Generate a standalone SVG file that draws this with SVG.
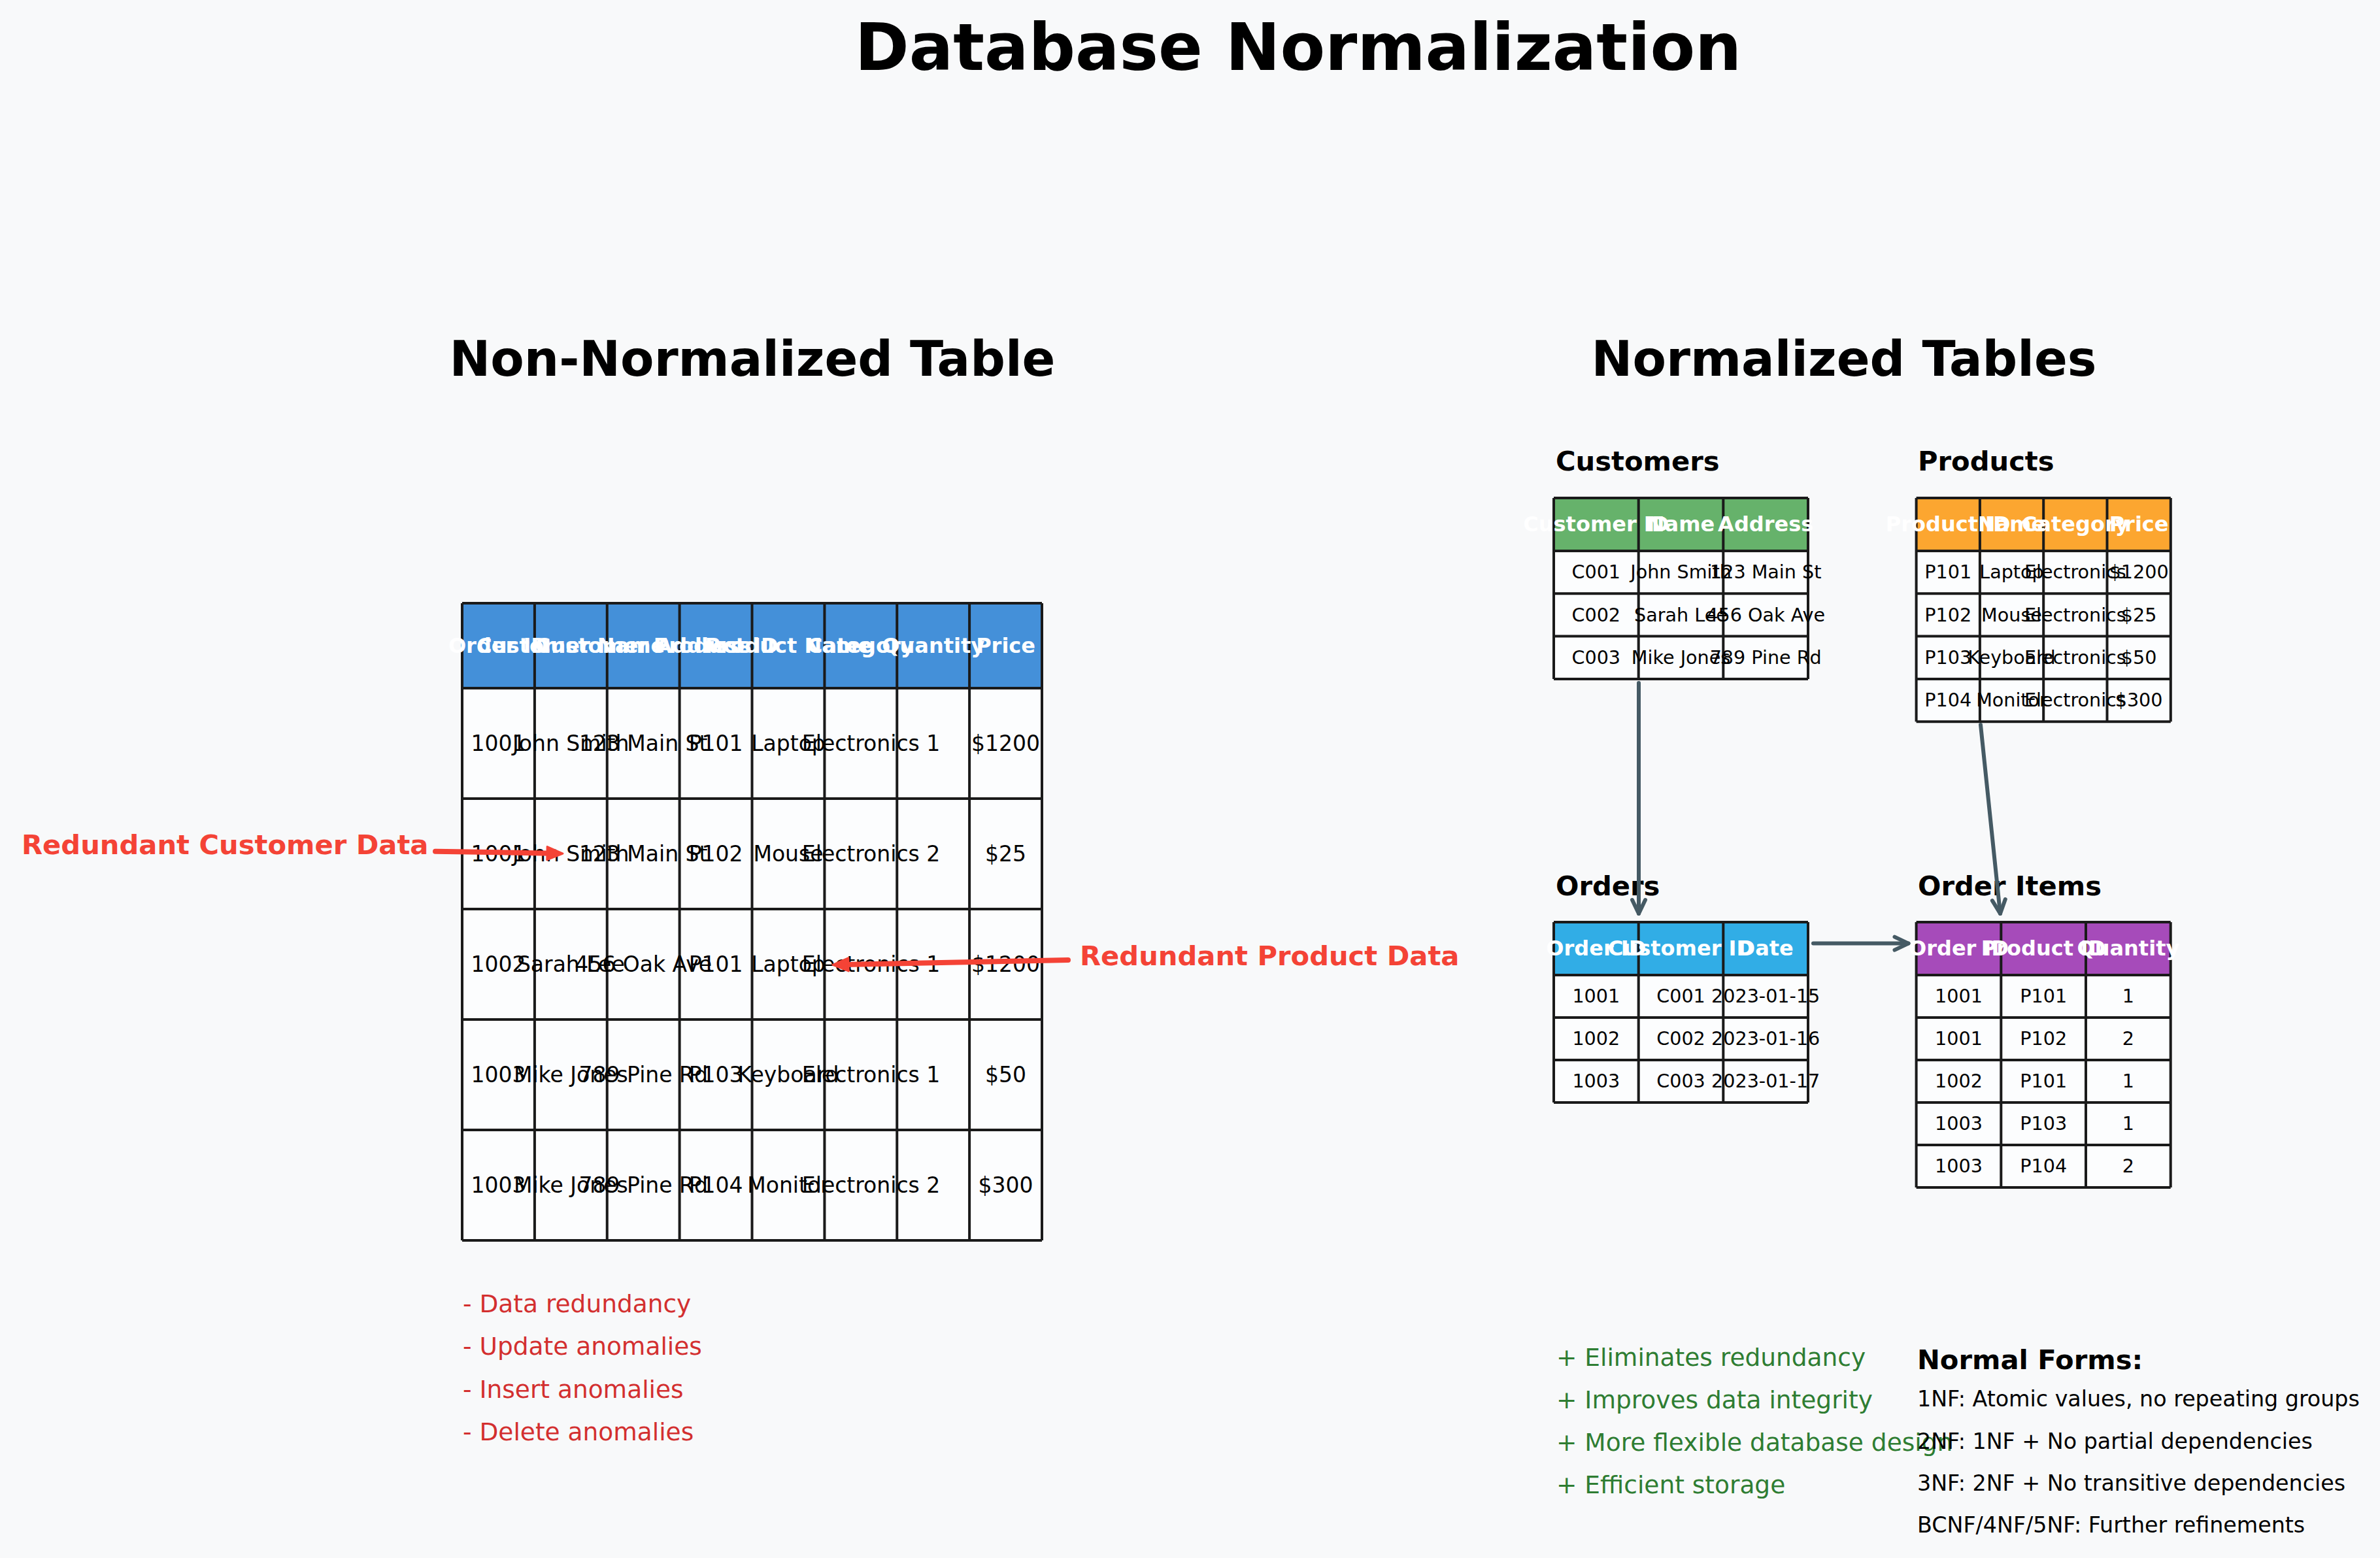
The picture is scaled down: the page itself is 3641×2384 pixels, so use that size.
<svg xmlns="http://www.w3.org/2000/svg" width="3641" height="2384" viewBox="0 0 3641 2384">
<style>
text{font-family:"DejaVu Sans","Liberation Sans",sans-serif}
.title{font-size:100px;font-weight:bold;fill:#000;text-anchor:middle}
.sec{font-size:75px;font-weight:bold;fill:#000;text-anchor:middle}
.cap{font-size:41.67px;font-weight:bold;fill:#000}
.grid{fill:none;stroke:#1a1a1a;stroke-width:4}
.body{fill:#fcfdfe}
.mh{font-size:32px;font-weight:bold;fill:#fff;text-anchor:middle}
.md{font-size:33px;fill:#000;text-anchor:middle}
.nh{font-size:32px;font-weight:bold;fill:#fff;text-anchor:middle}
.nd{font-size:28.6px;fill:#000;text-anchor:middle}
.red{font-size:41.67px;font-weight:bold;fill:#f44336}
.neg{font-size:37.5px;fill:#d32f2f}
.pos{font-size:37.5px;fill:#2e7d32}
.nf{font-size:33.3px;fill:#000}
.rl{fill:none;stroke:#f44336;stroke-width:8;stroke-linecap:round}
.sl{fill:none;stroke:#455a64;stroke-width:6;stroke-linecap:round}
</style>
<defs>
<marker id="redHead" markerUnits="userSpaceOnUse" viewBox="0 0 28 26" refX="8" refY="13" markerWidth="28" markerHeight="26" orient="auto" overflow="visible">
<path d="M2,3 L26,13 L2,23 Z" fill="#f44336" stroke="#f44336" stroke-width="3" stroke-linejoin="round"/>
</marker>
<marker id="slateHead" markerUnits="userSpaceOnUse" viewBox="0 0 24 24" refX="22" refY="12" markerWidth="24" markerHeight="24" orient="auto" overflow="visible">
<path d="M1,2 L22,12 L1,22" fill="none" stroke="#455a64" stroke-width="6" stroke-linecap="round" stroke-linejoin="round"/>
</marker>
</defs>
<rect width="3641" height="2384" fill="#f8f9fa"/>

<g id="title"><text class="title" x="1986" y="107">Database Normalization</text></g>
<g id="title-left"><text class="sec" x="1151" y="575">Non-Normalized Table</text></g>
<g id="title-right"><text class="sec" x="2821" y="575">Normalized Tables</text></g>

<g id="non-normalized-table">
<rect x="707" y="923" width="887" height="130" fill="#4490d9"/>
<rect class="body" x="707" y="1053" width="887" height="845"/>
<path class="grid" d="M707,923H1594M707,1053H1594M707,1222H1594M707,1391H1594M707,1560H1594M707,1729H1594M707,1898H1594M707,923V1898M817.9,923V1898M928.75,923V1898M1039.6,923V1898M1150.5,923V1898M1261.4,923V1898M1372.25,923V1898M1483.1,923V1898M1594,923V1898"/>
<text class="mh" x="762.4" y="999">Order ID</text>
<text class="mh" x="873.3" y="999">Customer Name</text>
<text class="mh" x="984.2" y="999">Customer Address</text>
<text class="mh" x="1095.1" y="999">Product ID</text>
<text class="mh" x="1206" y="999">Product Name</text>
<text class="mh" x="1316.8" y="999">Category</text>
<text class="mh" x="1427.7" y="999">Quantity</text>
<text class="mh" x="1538.6" y="999">Price</text>
<g>
<text class="md" x="762.4" y="1149">1001</text><text class="md" x="873.3" y="1149">John Smith</text><text class="md" x="984.2" y="1149">123 Main St</text><text class="md" x="1095.1" y="1149">P101</text><text class="md" x="1206" y="1149">Laptop</text><text class="md" x="1316.8" y="1149">Electronics</text><text class="md" x="1427.7" y="1149">1</text><text class="md" x="1538.6" y="1149">$1200</text>
</g>
<g>
<text class="md" x="762.4" y="1318">1001</text><text class="md" x="873.3" y="1318">John Smith</text><text class="md" x="984.2" y="1318">123 Main St</text><text class="md" x="1095.1" y="1318">P102</text><text class="md" x="1206" y="1318">Mouse</text><text class="md" x="1316.8" y="1318">Electronics</text><text class="md" x="1427.7" y="1318">2</text><text class="md" x="1538.6" y="1318">$25</text>
</g>
<g>
<text class="md" x="762.4" y="1487">1002</text><text class="md" x="873.3" y="1487">Sarah Lee</text><text class="md" x="984.2" y="1487">456 Oak Ave</text><text class="md" x="1095.1" y="1487">P101</text><text class="md" x="1206" y="1487">Laptop</text><text class="md" x="1316.8" y="1487">Electronics</text><text class="md" x="1427.7" y="1487">1</text><text class="md" x="1538.6" y="1487">$1200</text>
</g>
<g>
<text class="md" x="762.4" y="1656">1003</text><text class="md" x="873.3" y="1656">Mike Jones</text><text class="md" x="984.2" y="1656">789 Pine Rd</text><text class="md" x="1095.1" y="1656">P103</text><text class="md" x="1206" y="1656">Keyboard</text><text class="md" x="1316.8" y="1656">Electronics</text><text class="md" x="1427.7" y="1656">1</text><text class="md" x="1538.6" y="1656">$50</text>
</g>
<g>
<text class="md" x="762.4" y="1825">1003</text><text class="md" x="873.3" y="1825">Mike Jones</text><text class="md" x="984.2" y="1825">789 Pine Rd</text><text class="md" x="1095.1" y="1825">P104</text><text class="md" x="1206" y="1825">Monitor</text><text class="md" x="1316.8" y="1825">Electronics</text><text class="md" x="1427.7" y="1825">2</text><text class="md" x="1538.6" y="1825">$300</text>
</g>
</g>

<g id="label-redundant-customer"><text class="red" x="33" y="1307">Redundant Customer Data</text></g>
<g id="label-redundant-product"><text class="red" x="1652" y="1477">Redundant Product Data</text></g>

<g id="problems-list">
<text class="neg" x="708" y="2008">- Data redundancy</text>
<text class="neg" x="708" y="2073">- Update anomalies</text>
<text class="neg" x="708" y="2139">- Insert anomalies</text>
<text class="neg" x="708" y="2204">- Delete anomalies</text>
</g>

<g id="customers-table">
<text class="cap" x="2380" y="720">Customers</text>
<rect x="2377" y="762" width="389" height="81" fill="#66b26b"/>
<rect class="body" x="2377" y="843" width="389" height="196"/>
<path class="grid" d="M2377,762H2766M2377,843H2766M2377,908.3H2766M2377,973.6H2766M2377,1038.9H2766M2377,762V1038.9M2506.7,762V1038.9M2636.3,762V1038.9M2766,762V1038.9"/>
<text class="nh" x="2441.8" y="813">Customer ID</text><text class="nh" x="2571.5" y="813">Name</text><text class="nh" x="2701.2" y="813">Address</text>
<text class="nd" x="2441.8" y="885">C001</text><text class="nd" x="2571.5" y="885">John Smith</text><text class="nd" x="2701.2" y="885">123 Main St</text>
<text class="nd" x="2441.8" y="950.5">C002</text><text class="nd" x="2571.5" y="950.5">Sarah Lee</text><text class="nd" x="2701.2" y="950.5">456 Oak Ave</text>
<text class="nd" x="2441.8" y="1015.8">C003</text><text class="nd" x="2571.5" y="1015.8">Mike Jones</text><text class="nd" x="2701.2" y="1015.8">789 Pine Rd</text>
</g>

<g id="products-table">
<text class="cap" x="2934" y="720">Products</text>
<rect x="2931.6" y="762" width="389.2" height="81" fill="#fca630"/>
<rect class="body" x="2931.6" y="843" width="389.2" height="261.2"/>
<path class="grid" d="M2931.6,762H3320.8M2931.6,843H3320.8M2931.6,908.3H3320.8M2931.6,973.6H3320.8M2931.6,1038.9H3320.8M2931.6,1104.2H3320.8M2931.6,762V1104.2M3028.9,762V1104.2M3126.2,762V1104.2M3223.5,762V1104.2M3320.8,762V1104.2"/>
<text class="nh" x="2980.2" y="813">Product ID</text><text class="nh" x="3077.5" y="813">Name</text><text class="nh" x="3174.8" y="813">Category</text><text class="nh" x="3272.1" y="813">Price</text>
<text class="nd" x="2980.2" y="885">P101</text><text class="nd" x="3077.5" y="885">Laptop</text><text class="nd" x="3174.8" y="885">Electronics</text><text class="nd" x="3272.1" y="885">$1200</text>
<text class="nd" x="2980.2" y="950.5">P102</text><text class="nd" x="3077.5" y="950.5">Mouse</text><text class="nd" x="3174.8" y="950.5">Electronics</text><text class="nd" x="3272.1" y="950.5">$25</text>
<text class="nd" x="2980.2" y="1015.8">P103</text><text class="nd" x="3077.5" y="1015.8">Keyboard</text><text class="nd" x="3174.8" y="1015.8">Electronics</text><text class="nd" x="3272.1" y="1015.8">$50</text>
<text class="nd" x="2980.2" y="1081">P104</text><text class="nd" x="3077.5" y="1081">Monitor</text><text class="nd" x="3174.8" y="1081">Electronics</text><text class="nd" x="3272.1" y="1081">$300</text>
</g>

<g id="orders-table">
<text class="cap" x="2380" y="1370">Orders</text>
<rect x="2377" y="1411" width="389" height="81" fill="#31ade6"/>
<rect class="body" x="2377" y="1492" width="389" height="195"/>
<path class="grid" d="M2377,1411H2766M2377,1492H2766M2377,1557H2766M2377,1622H2766M2377,1687H2766M2377,1411V1687M2506.7,1411V1687M2636.3,1411V1687M2766,1411V1687"/>
<text class="nh" x="2441.8" y="1462">Order ID</text><text class="nh" x="2571.5" y="1462">Customer ID</text><text class="nh" x="2701.2" y="1462">Date</text>
<text class="nd" x="2441.8" y="1534">1001</text><text class="nd" x="2571.5" y="1534">C001</text><text class="nd" x="2701.2" y="1534">2023-01-15</text>
<text class="nd" x="2441.8" y="1599">1002</text><text class="nd" x="2571.5" y="1599">C002</text><text class="nd" x="2701.2" y="1599">2023-01-16</text>
<text class="nd" x="2441.8" y="1664">1003</text><text class="nd" x="2571.5" y="1664">C003</text><text class="nd" x="2701.2" y="1664">2023-01-17</text>
</g>

<g id="order-items-table">
<text class="cap" x="2934" y="1370">Order Items</text>
<rect x="2931.6" y="1411" width="389.1" height="81" fill="#a64bba"/>
<rect class="body" x="2931.6" y="1492" width="389.1" height="325"/>
<path class="grid" d="M2931.6,1411H3320.7M2931.6,1492H3320.7M2931.6,1557H3320.7M2931.6,1622H3320.7M2931.6,1687H3320.7M2931.6,1752H3320.7M2931.6,1817H3320.7M2931.6,1411V1817M3061.3,1411V1817M3191,1411V1817M3320.7,1411V1817"/>
<text class="nh" x="2996.5" y="1462">Order ID</text><text class="nh" x="3126.2" y="1462">Product ID</text><text class="nh" x="3255.9" y="1462">Quantity</text>
<text class="nd" x="2996.5" y="1534">1001</text><text class="nd" x="3126.2" y="1534">P101</text><text class="nd" x="3255.9" y="1534">1</text>
<text class="nd" x="2996.5" y="1599">1001</text><text class="nd" x="3126.2" y="1599">P102</text><text class="nd" x="3255.9" y="1599">2</text>
<text class="nd" x="2996.5" y="1664">1002</text><text class="nd" x="3126.2" y="1664">P101</text><text class="nd" x="3255.9" y="1664">1</text>
<text class="nd" x="2996.5" y="1729">1003</text><text class="nd" x="3126.2" y="1729">P103</text><text class="nd" x="3255.9" y="1729">1</text>
<text class="nd" x="2996.5" y="1794">1003</text><text class="nd" x="3126.2" y="1794">P104</text><text class="nd" x="3255.9" y="1794">2</text>
</g>

<g id="benefits-list">
<text class="pos" x="2381" y="2090">+ Eliminates redundancy</text>
<text class="pos" x="2381" y="2155">+ Improves data integrity</text>
<text class="pos" x="2381" y="2220">+ More flexible database design</text>
<text class="pos" x="2381" y="2285">+ Efficient storage</text>
</g>

<g id="normal-forms">
<text class="cap" x="2933" y="2095">Normal Forms:</text>
<text class="nf" x="2933" y="2152">1NF: Atomic values, no repeating groups</text>
<text class="nf" x="2933" y="2217">2NF: 1NF + No partial dependencies</text>
<text class="nf" x="2933" y="2281">3NF: 2NF + No transitive dependencies</text>
<text class="nf" x="2933" y="2345">BCNF/4NF/5NF: Further refinements</text>
</g>

<g id="connectors">
<path class="rl" d="M666,1302.7 L843,1305.7" marker-end="url(#redHead)"/>
<path class="rl" d="M1634,1469 L1292,1476.1" marker-end="url(#redHead)"/>
<path class="sl" d="M2507,1045 L2507,1398" marker-end="url(#slateHead)"/>
<path class="sl" d="M3030,1109 L3060,1398" marker-end="url(#slateHead)"/>
<path class="sl" d="M2774,1443.6 L2919.5,1443.6" marker-end="url(#slateHead)"/>
</g>
</svg>
